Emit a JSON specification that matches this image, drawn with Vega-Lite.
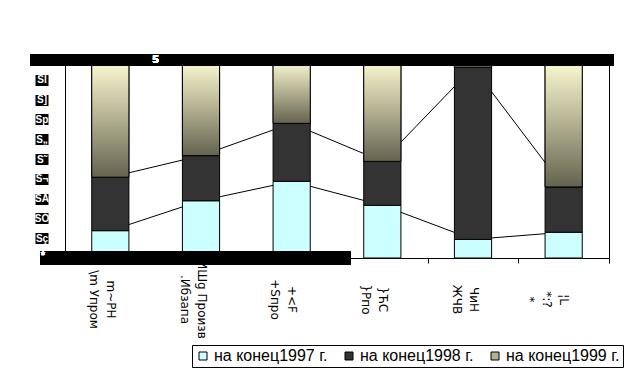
{
  "$schema": "https://vega.github.io/schema/vega-lite/v6.json",
  "width": 544,
  "height": 198,
  "autosize": {"type": "none"},
  "padding": {"left": 65, "top": 60, "right": 15, "bottom": 117},
  "background": "white",
  "config": {
    "view": {"stroke": "black", "strokeWidth": 1},
    "axisY": {
      "domain": false,
      "grid": false,
      "offset": 17,
      "tickSize": 13,
      "tickWidth": 11,
      "tickColor": "black",
      "tickCap": "butt",
      "tickCount": 20,
      "labelColor": "white",
      "labelFont": "Liberation Sans",
      "labelFontWeight": "bold",
      "labelFontSize": 10,
      "labelAlign": "center",
      "labelBaseline": "middle",
      "labelPadding": -6.5,
      "labelOverlap": false,
      "labelBound": false,
      "labelFlush": false
    },
    "axisX": {
      "domainColor": "black",
      "tickColor": "black",
      "tickSize": 5,
      "tickBand": "extent",
      "labelFont": "DejaVu Sans",
      "labelFontSize": 12,
      "labelLineHeight": 17,
      "labelColor": "black",
      "labelOverlap": false,
      "labelBound": false,
      "labelFlush": false,
      "grid": false
    }
  },
  "data": {
    "values": [
      {"cat": "m~PH|\\m Упром", "series": "на конец1997 г.", "value": 13.8},
      {"cat": "m~PH|\\m Упром", "series": "на конец1998 г.", "value": 27.0},
      {"cat": "m~PH|\\m Упром", "series": "на конец1999 г.", "value": 59.2},
      {"cat": "ИШg Произв|.Ибзапа", "series": "на конец1997 г.", "value": 28.9},
      {"cat": "ИШg Произв|.Ибзапа", "series": "на конец1998 г.", "value": 22.8},
      {"cat": "ИШg Произв|.Ибзапа", "series": "на конец1999 г.", "value": 48.3},
      {"cat": "+<F|+Sпро", "series": "на конец1997 г.", "value": 38.7},
      {"cat": "+<F|+Sпро", "series": "на конец1998 г.", "value": 29.3},
      {"cat": "+<F|+Sпро", "series": "на конец1999 г.", "value": 32.0},
      {"cat": "}ЋС||}Рпо", "series": "на конец1997 г.", "value": 26.6},
      {"cat": "}ЋС||}Рпо", "series": "на конец1998 г.", "value": 22.2},
      {"cat": "}ЋС||}Рпо", "series": "на конец1999 г.", "value": 51.2},
      {"cat": "ЧиН|ЖЧВ", "series": "на конец1997 г.", "value": 9.4},
      {"cat": "ЧиН|ЖЧВ", "series": "на конец1998 г.", "value": 86.9},
      {"cat": "ЧиН|ЖЧВ", "series": "на конец1999 г.", "value": 3.7},
      {"cat": "¦L|*:?|*", "series": "на конец1997 г.", "value": 13.0},
      {"cat": "¦L|*:?|*", "series": "на конец1998 г.", "value": 22.9},
      {"cat": "¦L|*:?|*", "series": "на конец1999 г.", "value": 64.1}
    ]
  },
  "transform": [
    {"stack": "value", "groupby": ["cat"], "sort": [{"field": "series", "order": "ascending"}], "as": ["v0", "v1"]}
  ],
  "layer": [
    {
      "transform": [{"filter": "datum.series !== 'на конец1999 г.'"}],
      "mark": {"type": "line", "color": "black", "strokeWidth": 1},
      "encoding": {
        "x": {"field": "cat", "type": "nominal", "sort": null, "title": null,
              "scale": {"paddingInner": 0, "paddingOuter": 0},
              "axis": {"labelExpr": "split(datum.label, '|')", "labelAngle": 90, "labelAlign": "center", "labelBaseline": "middle", "labelPadding": 36}},
        "y": {"field": "v1", "type": "quantitative", "title": null,
              "scale": {"domain": [0, 100]},
              "axis": {"values": [10, 20, 30, 40, 50, 60, 70, 80, 90], "tickCount": 20, "labelOverlap": false,
                       "labelExpr": "['','Sç','SÓ','SÀ','S¬','S˜','S„','Sp','S]','Sl',''][round(datum.value/10)]"}},
        "detail": {"field": "series"}
      }
    },
    {
      "mark": {"type": "bar", "width": {"band": 0.41}, "stroke": "black", "strokeWidth": 1},
      "encoding": {
        "x": {"field": "cat", "type": "nominal", "sort": null, "title": null,
              "axis": {"labelExpr": "split(datum.label, '|')", "labelAngle": 90, "labelAlign": "center", "labelBaseline": "middle", "labelPadding": 36}},
        "y": {"field": "v1", "type": "quantitative", "title": null,
              "axis": {"values": [10, 20, 30, 40, 50, 60, 70, 80, 90], "tickCount": 20, "labelOverlap": false,
                       "labelExpr": "['','Sç','SÓ','SÀ','S¬','S˜','S„','Sp','S]','Sl',''][round(datum.value/10)]"}},
        "y2": {"field": "v0"},
        "color": {
          "field": "series", "type": "nominal",
          "scale": {
            "domain": ["на конец1997 г.", "на конец1998 г.", "на конец1999 г."],
            "range": ["#ccffff", "#333333", "#b3b191"]
          },
          "legend": {
            "orient": "none", "legendX": 127, "legendY": 285,
            "direction": "horizontal", "title": null,
            "strokeColor": "black", "fillColor": "white", "padding": 3,
            "symbolType": "square", "symbolSize": 64,
            "symbolStrokeColor": "black", "symbolStrokeWidth": 1,
            "labelFont": "Liberation Sans", "labelFontSize": 16, "labelColor": "black",
            "columnPadding": 13, "labelOffset": 3, "labelLimit": 0
          }
        }
      }
    },
    {
      "transform": [{"filter": "datum.series === 'на конец1999 г.'"}],
      "mark": {"type": "bar", "width": {"band": 0.41}, "stroke": "black", "strokeWidth": 1,
               "color": {"gradient": "linear", "x1": 0, "y1": 0, "x2": 0, "y2": 1,
                         "stops": [{"offset": 0, "color": "#fefcd4"}, {"offset": 0.5, "color": "#b3b191"}, {"offset": 1, "color": "#64634f"}]}},
      "encoding": {
        "x": {"field": "cat", "type": "nominal", "sort": null, "title": null},
        "y": {"field": "v1", "type": "quantitative", "title": null},
        "y2": {"field": "v0"}
      }
    },
    {
      "mark": {"type": "rule", "color": "black", "strokeWidth": 12, "strokeCap": "butt", "xOffset": -35, "x2Offset": 50},
      "encoding": {
        "y": {"datum": 100, "type": "quantitative"},
        "x": {"datum": "m~PH|\\m Упром", "type": "nominal", "bandPosition": 0},
        "x2": {"datum": "¦L|*:?|*"}
      }
    },
    {
      "mark": {"type": "rule", "color": "black", "strokeWidth": 13, "strokeCap": "butt", "xOffset": -25, "x2Offset": -32},
      "encoding": {
        "y": {"datum": 0, "type": "quantitative"},
        "x": {"datum": "m~PH|\\m Упром", "type": "nominal", "bandPosition": 0},
        "x2": {"datum": "}ЋС||}Рпо"}
      }
    },
    {
      "mark": {"type": "text", "color": "white", "font": "Liberation Sans", "fontWeight": "bold", "fontSize": 11, "baseline": "middle"},
      "encoding": {
        "y": {"datum": 100, "type": "quantitative"},
        "x": {"datum": "ИШg Произв|.Ибзапа", "type": "nominal", "bandPosition": 0},
        "text": {"value": "5"}
      }
    },
    {
      "mark": {"type": "text", "color": "white", "font": "Liberation Sans", "fontWeight": "bold", "fontSize": 10, "baseline": "middle", "xOffset": -22, "dy": -2},
      "encoding": {
        "y": {"datum": 0, "type": "quantitative"},
        "x": {"datum": "m~PH|\\m Упром", "type": "nominal", "bandPosition": 0},
        "text": {"value": "*"}
      }
    }
  ]
}
